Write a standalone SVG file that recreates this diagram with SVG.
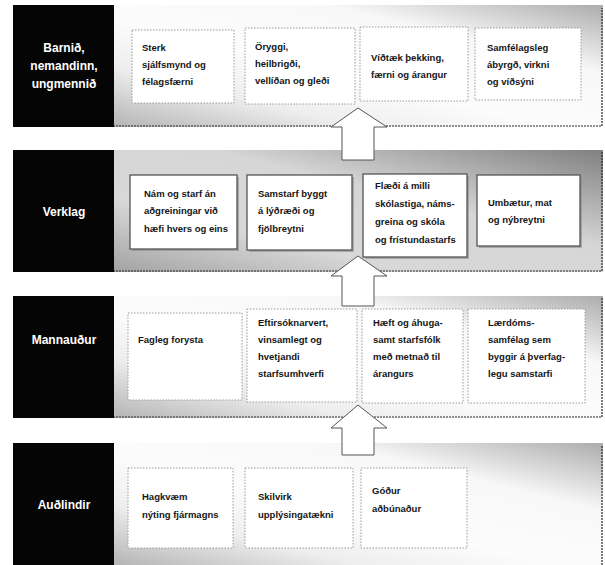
<svg xmlns="http://www.w3.org/2000/svg" width="605" height="565" viewBox="0 0 605 565">
<style>
.lbl{fill:#050505}
.lt{font-family:"Liberation Sans",Arial,sans-serif;font-weight:bold;font-size:12px;fill:#fff;text-anchor:middle}
.it{font-family:"Liberation Sans",Arial,sans-serif;font-weight:bold;font-size:9.5px;fill:#151515}
.bx{fill:#fff;stroke:#9a9a9a;stroke-width:1;stroke-dasharray:1.5 1.5}
.bx2{fill:#fff;stroke:#555;stroke-width:1.3}
.sh{fill:#8a8a8a;opacity:0.6}
.edge{fill:none;stroke:#2a2a2a;stroke-width:1.2;stroke-dasharray:2 1}
.arr{fill:#fff;stroke:#555;stroke-width:1}
</style>
<defs>
<linearGradient id="gA" x1="0" y1="1" x2="1" y2="0">
<stop offset="0" stop-color="#b4b4b4"/>
<stop offset="0.25" stop-color="#eeeeee"/>
<stop offset="0.45" stop-color="#fcfcfc"/>
<stop offset="0.72" stop-color="#f8f8f8"/>
<stop offset="1" stop-color="#acacac"/>
</linearGradient>
<linearGradient id="gB" x1="0" y1="1" x2="1" y2="0">
<stop offset="0" stop-color="#a2a2a2"/>
<stop offset="0.3" stop-color="#d8d8d8"/>
<stop offset="0.6" stop-color="#d6d6d6"/>
<stop offset="1" stop-color="#808080"/>
</linearGradient>
</defs>

<g id="row1">
<rect x="113" y="5" width="490" height="122" fill="url(#gA)"/>
<path class="edge" d="M113,126 H602 V8"/>
</g>
<g id="row2">
<rect x="113" y="150" width="490" height="122" fill="url(#gB)"/>
<path class="edge" d="M113,271 H602 V152"/>
</g>
<g id="row3">
<rect x="113" y="296" width="490" height="122" fill="url(#gA)"/>
<path class="edge" d="M113,417 H602 V298"/>
</g>
<g id="row4">
<rect x="113" y="443" width="490" height="122" fill="url(#gA)"/>
<path class="edge" d="M602,446 V565"/>
</g>

<g id="connectors">
<path class="arr" d="M358,108 L387,127 L374,127 L374,160 L342,160 L342,127 L331,127 Z"/>
<path class="arr" d="M358,256 L387,276 L374,276 L374,306 L342,306 L342,276 L331,276 Z"/>
<path class="arr" d="M358,405 L387,428 L374,428 L374,455 L342,455 L342,428 L331,428 Z"/>
</g>

<g id="label-barnid">
<rect class="lbl" x="13" y="5" width="101" height="122"/>
<text class="lt" x="64" y="52">Barnið,</text>
<text class="lt" x="64" y="70">nemandinn,</text>
<text class="lt" x="64" y="88">ungmennið</text>
</g>
<g id="label-verklag">
<rect class="lbl" x="13" y="150" width="101" height="122"/>
<text class="lt" x="64" y="216">Verklag</text>
</g>
<g id="label-mannaudur">
<rect class="lbl" x="13" y="296" width="101" height="122"/>
<text class="lt" x="64" y="344">Mannauður</text>
</g>
<g id="label-audlindir">
<rect class="lbl" x="13" y="443" width="101" height="122"/>
<text class="lt" x="64" y="509">Auðlindir</text>
</g>

<g id="r1-b1">
<rect class="bx" x="132" y="30" width="102" height="73"/>
<text class="it" x="142" y="51">Sterk</text>
<text class="it" x="142" y="68">sjálfsmynd og</text>
<text class="it" x="142" y="85">félagsfærni</text>
</g>
<g id="r1-b2">
<rect class="bx" x="245" y="28" width="110" height="76"/>
<text class="it" x="255" y="50">Öryggi,</text>
<text class="it" x="255" y="67">heilbrigði,</text>
<text class="it" x="255" y="84">vellíðan og gleði</text>
</g>
<g id="r1-b3">
<rect class="bx" x="360" y="27" width="108" height="74"/>
<text class="it" x="371" y="61">Víðtæk þekking,</text>
<text class="it" x="371" y="78">færni og árangur</text>
</g>
<g id="r1-b4">
<rect class="bx" x="475" y="28" width="106" height="72"/>
<text class="it" x="487" y="51">Samfélagsleg</text>
<text class="it" x="487" y="68">ábyrgð, virkni</text>
<text class="it" x="487" y="85">og víðsýni</text>
</g>

<g id="r2-b1">
<rect class="sh" x="132" y="177" width="107" height="74"/>
<rect class="bx2" x="130" y="175" width="107" height="74"/>
<text class="it" x="144" y="197">Nám og starf án</text>
<text class="it" x="144" y="214">aðgreiningar við</text>
<text class="it" x="144" y="232">hæfi hvers og eins</text>
</g>
<g id="r2-b2">
<rect class="sh" x="249" y="177" width="105" height="75"/>
<rect class="bx2" x="247" y="175" width="105" height="75"/>
<text class="it" x="258" y="197">Samstarf byggt</text>
<text class="it" x="258" y="214">á lýðræði og</text>
<text class="it" x="258" y="232">fjölbreytni</text>
</g>
<g id="r2-b3">
<rect class="sh" x="365" y="176" width="104" height="83"/>
<rect class="bx2" x="363" y="174" width="104" height="83"/>
<text class="it" x="375" y="189">Flæði á milli</text>
<text class="it" x="375" y="207">skólastiga, náms-</text>
<text class="it" x="375" y="225">greina og skóla</text>
<text class="it" x="375" y="243">og frístundastarfs</text>
</g>
<g id="r2-b4">
<rect class="sh" x="479" y="177" width="103" height="71"/>
<rect class="bx2" x="477" y="175" width="103" height="71"/>
<text class="it" x="488" y="206">Umbætur, mat</text>
<text class="it" x="488" y="223">og nýbreytni</text>
</g>

<g id="r3-b1">
<rect class="bx" x="128" y="313" width="114" height="87"/>
<text class="it" x="138" y="343">Fagleg forysta</text>
</g>
<g id="r3-b2">
<rect class="bx" x="247" y="309" width="110" height="93"/>
<text class="it" x="258" y="326">Eftirsóknarvert,</text>
<text class="it" x="258" y="343">vinsamlegt og</text>
<text class="it" x="258" y="360">hvetjandi</text>
<text class="it" x="258" y="377">starfsumhverfi</text>
</g>
<g id="r3-b3">
<rect class="bx" x="362" y="309" width="101" height="94"/>
<text class="it" x="373" y="326">Hæft og áhuga-</text>
<text class="it" x="373" y="343">samt starfsfólk</text>
<text class="it" x="373" y="360">með metnað til</text>
<text class="it" x="373" y="377">árangurs</text>
</g>
<g id="r3-b4">
<rect class="bx" x="468" y="309" width="117" height="94"/>
<text class="it" x="488" y="326">Lærdóms-</text>
<text class="it" x="488" y="343">samfélag sem</text>
<text class="it" x="488" y="360">byggir á þverfag-</text>
<text class="it" x="488" y="377">legu samstarfi</text>
</g>

<g id="r4-b1">
<rect class="bx" x="128" y="468" width="105" height="80"/>
<text class="it" x="142" y="500">Hagkvæm</text>
<text class="it" x="142" y="518">nýting fjármagns</text>
</g>
<g id="r4-b2">
<rect class="bx" x="245" y="468" width="108" height="80"/>
<text class="it" x="258" y="500">Skilvirk</text>
<text class="it" x="258" y="518">upplýsingatækni</text>
</g>
<g id="r4-b3">
<rect class="bx" x="361" y="468" width="106" height="80"/>
<text class="it" x="372" y="494">Góður</text>
<text class="it" x="372" y="512">aðbúnaður</text>
</g>
</svg>
